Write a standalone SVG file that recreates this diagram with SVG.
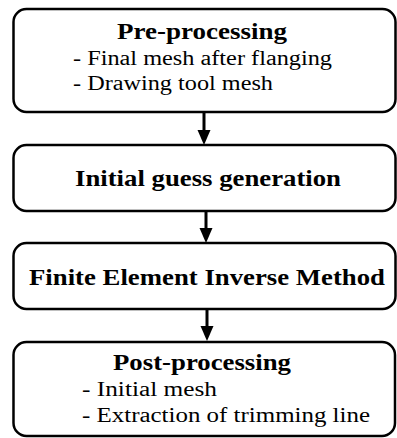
<svg xmlns="http://www.w3.org/2000/svg" width="397" height="438" viewBox="0 0 397 438">
<style>
.box{fill:#fff;stroke:#000;stroke-width:2.5}
text{font-family:'Liberation Serif','DejaVu Serif',serif;fill:#000}
.b{font-weight:bold;font-size:23px}
.r{font-size:20px}
.c{stroke:#000;stroke-width:3;fill:none}
.h{fill:#000}
</style>
<rect width="397" height="438" fill="#fff"/>
<g id="connectors">
<line class="c" x1="204" y1="112" x2="204" y2="131"/>
<path class="h" d="M197.5,130 L210.5,130 L204,145 Z"/>
<line class="c" x1="206" y1="211" x2="206" y2="229"/>
<path class="h" d="M199.5,228 L212.5,228 L206,243 Z"/>
<line class="c" x1="207" y1="309" x2="207" y2="327"/>
<path class="h" d="M200.5,326 L213.5,326 L207,341 Z"/>
</g>
<g id="pre" font-family="Liberation Serif, serif">
<rect class="box" x="13.5" y="9" width="382" height="103" rx="13"/>
<text class="b" x="117" y="39" textLength="170" lengthAdjust="spacingAndGlyphs">Pre-processing</text>
<text class="r" x="73" y="65" textLength="259" lengthAdjust="spacingAndGlyphs">- Final mesh after flanging</text>
<text class="r" x="73" y="90" textLength="200" lengthAdjust="spacingAndGlyphs">- Drawing tool mesh</text>
</g>
<g id="guess" font-family="Liberation Serif, serif">
<rect class="box" x="13.5" y="145" width="382" height="66" rx="13"/>
<text class="b" x="75" y="185.5" textLength="266" lengthAdjust="spacingAndGlyphs">Initial guess generation</text>
</g>
<g id="fem" font-family="Liberation Serif, serif">
<rect class="box" x="13.5" y="243" width="382" height="66" rx="13"/>
<text class="b" x="29" y="284.5" textLength="356" lengthAdjust="spacingAndGlyphs">Finite Element Inverse Method</text>
</g>
<g id="post" font-family="Liberation Serif, serif">
<rect class="box" x="13.5" y="342" width="381.5" height="94" rx="13"/>
<text class="b" x="113" y="370" textLength="178" lengthAdjust="spacingAndGlyphs">Post-processing</text>
<text class="r" x="82" y="396" textLength="135" lengthAdjust="spacingAndGlyphs">- Initial mesh</text>
<text class="r" x="82" y="422" textLength="288" lengthAdjust="spacingAndGlyphs">- Extraction of trimming line</text>
</g>
</svg>
